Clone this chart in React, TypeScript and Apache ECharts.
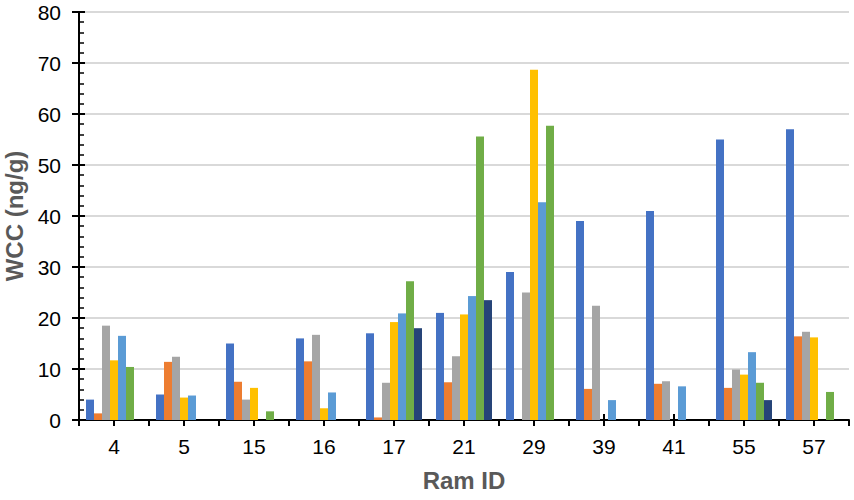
import React, { useEffect, useRef } from "react";
import * as echarts from "echarts";

const categories = ["4", "5", "15", "16", "17", "21", "29", "39", "41", "55", "57"];
const seriesNames = ["Series 1", "Series 2", "Series 3", "Series 4", "Series 5", "Series 6", "Series 7"];
const s1 = [4.0, 5.0, 15.0, 16.0, 17.0, 21.0, 29.0, 39.0, 41.0, 55.0, 57.0];
const s2 = [1.3, 11.4, 7.5, 11.5, 0.5, 7.4, null, 6.1, 7.1, 6.3, 16.4];
const s3 = [18.5, 12.4, 4.0, 16.7, 7.3, 12.5, 25.0, 22.4, 7.6, 9.9, 17.3];
const s4 = [11.7, 4.4, 6.3, 2.3, 19.2, 20.7, 68.7, null, null, 8.9, 16.2];
const s5 = [16.5, 4.8, null, 5.4, 20.9, 24.3, 42.7, 3.9, 6.6, 13.3, null];
const s6 = [10.4, null, 1.7, null, 27.2, 55.6, 57.7, null, null, 7.3, 5.5];
const s7 = [null, null, null, null, 18.0, 23.5, null, null, null, 3.9, null];
const colors = ["#4472C4", "#ED7D31", "#A5A5A5", "#FFC000", "#5B9BD5", "#70AD47", "#264478"];

const FONT = "'Liberation Sans', Arial, sans-serif";

export default function App() {
  const ref = useRef<HTMLDivElement>(null);
  useEffect(() => {
    if (!ref.current) return;
    const chart = echarts.init(ref.current, undefined, { renderer: "svg" });
    const data = [s1, s2, s3, s4, s5, s6, s7];
    const hiddenX = (alignWithLabel: boolean, inside: boolean) => ({
      type: "category",
      data: categories,
      position: "bottom",
      axisLine: { show: false },
      axisLabel: { show: false },
      splitLine: { show: false },
      axisTick: { show: true, alignWithLabel, inside, length: 6, lineStyle: { color: "#000", width: 2 } },
    });
    chart.setOption({
      animation: false,
      grid: { left: 79, right: 5, top: 12, bottom: 80, containLabel: false, outerBoundsMode: "none" },
      xAxis: [
        {
          type: "category",
          data: categories,
          position: "bottom",
          name: "Ram ID",
          nameLocation: "middle",
          nameGap: 48,
          nameTextStyle: { fontFamily: FONT, fontSize: 24, fontWeight: "bold", color: "#595959" },
          axisLine: { show: true, lineStyle: { color: "#000", width: 2 } },
          axisTick: { show: true, alignWithLabel: false, inside: false, length: 6, lineStyle: { color: "#000", width: 2 } },
          axisLabel: { fontFamily: FONT, fontSize: 21, color: "#000", margin: 16, interval: 0 },
          splitLine: { show: false },
        },
        hiddenX(true, true),
        hiddenX(true, false),
      ],
      yAxis: [
        {
          type: "value",
          min: 0,
          max: 80,
          interval: 10,
          name: "WCC (ng/g)",
          nameLocation: "middle",
          nameGap: 53,
          nameRotate: 90,
          nameTextStyle: { fontFamily: FONT, fontSize: 24, fontWeight: "bold", color: "#595959" },
          axisLine: { show: true, lineStyle: { color: "#000", width: 2 } },
          axisTick: { show: true, inside: true, length: 6, lineStyle: { color: "#000", width: 2 } },
          minorTick: { show: true, splitNumber: 5, length: 5, lineStyle: { color: "#000", width: 1.5 } },
          axisLabel: { fontFamily: FONT, fontSize: 21, color: "#000", margin: 18 },
          splitLine: { show: true, lineStyle: { color: "#D9D9D9", width: 2 } },
        },
        {
          type: "value",
          min: 0,
          max: 80,
          interval: 10,
          position: "left",
          axisLine: { show: false },
          axisLabel: { show: false },
          splitLine: { show: false },
          axisTick: { show: true, inside: false, length: 7, lineStyle: { color: "#000", width: 2 } },
        },
      ],
      series: data.map((d, i) => ({
        name: seriesNames[i],
        type: "bar",
        xAxisIndex: 0,
        yAxisIndex: 0,
        data: d,
        barGap: "0%",
        barCategoryGap: "20%",
        itemStyle: { color: colors[i] },
      })),
    });
    return () => chart.dispose();
  }, []);
  return (
    <div
      ref={ref}
      style={{ position: "fixed", left: 0, top: 0, width: 854, height: 500, background: "#fff" }}
    />
  );
}
